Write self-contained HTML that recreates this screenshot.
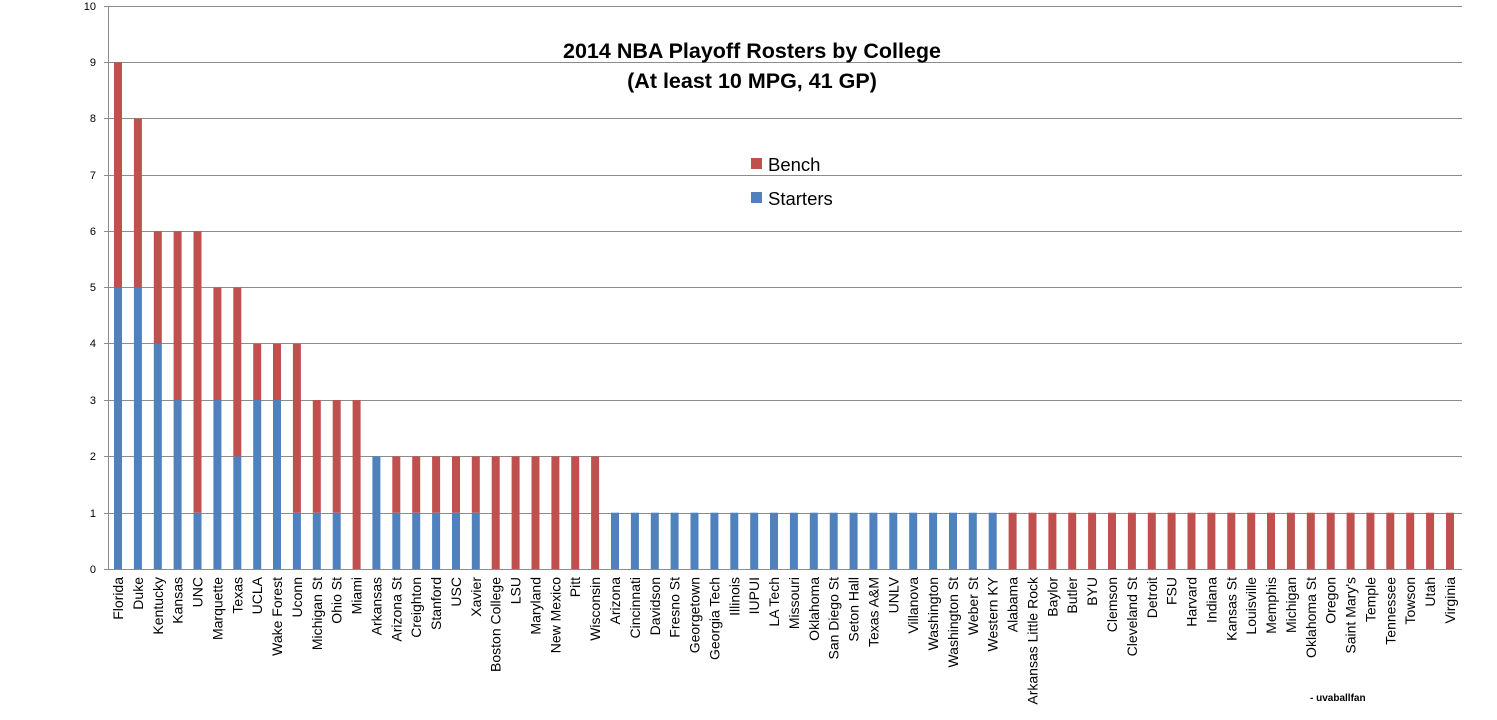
<!DOCTYPE html>
<html><head><meta charset="utf-8"><style>
body{margin:0;background:#fff}
svg{display:block;font-family:"Liberation Sans",sans-serif}
.s{fill:#4f81bd}.b{fill:#c0504d}
.l{font-size:14px;fill:#000}
.y{font-size:11px;fill:#000}
</style></head><body>
<svg width="1497" height="720" viewBox="0 0 1497 720">
<rect width="1497" height="720" fill="#fff"/>
<g stroke="#8c8c8c" stroke-width="1">
<line x1="104" x2="1462" y1="6.5" y2="6.5"/><line x1="104" x2="1462" y1="62.5" y2="62.5"/><line x1="104" x2="1462" y1="118.5" y2="118.5"/><line x1="104" x2="1462" y1="175.5" y2="175.5"/><line x1="104" x2="1462" y1="231.5" y2="231.5"/><line x1="104" x2="1462" y1="287.5" y2="287.5"/><line x1="104" x2="1462" y1="343.5" y2="343.5"/><line x1="104" x2="1462" y1="400.5" y2="400.5"/><line x1="104" x2="1462" y1="456.5" y2="456.5"/><line x1="104" x2="1462" y1="513.5" y2="513.5"/><line x1="104" x2="1462" y1="569.5" y2="569.5"/>
<line x1="108.5" x2="108.5" y1="6" y2="570"/>
</g>
<g class="y" text-anchor="end">
<text x="96" y="10">10</text><text x="96" y="66">9</text><text x="96" y="122">8</text><text x="96" y="179">7</text><text x="96" y="235">6</text><text x="96" y="291">5</text><text x="96" y="347">4</text><text x="96" y="404">3</text><text x="96" y="460">2</text><text x="96" y="517">1</text><text x="96" y="573">0</text>
</g>
<text x="752" y="58" text-anchor="middle" font-size="21.5" font-weight="bold">2014 NBA Playoff Rosters by College</text>
<text x="752" y="88" text-anchor="middle" font-size="21.5" font-weight="bold">(At least 10 MPG, 41 GP)</text>
<rect x="751" y="158" width="11" height="11" class="b"/><text x="768" y="171" font-size="18.5">Bench</text>
<rect x="751" y="192" width="11" height="11" class="s"/><text x="768" y="205" font-size="18.5">Starters</text>
<text x="1310" y="701" font-size="10" font-weight="bold">- uvaballfan</text>
<g id="bars">
<g transform="translate(118,0)"><rect class="s" x="-4" y="287.5" width="8" height="281.5"/><rect class="b" x="-4" y="62.3" width="8" height="225.2"/><text class="l" text-anchor="end" transform="translate(5,577) rotate(-90)">Florida</text></g>
<g transform="translate(137.9,0)"><rect class="s" x="-4" y="287.5" width="8" height="281.5"/><rect class="b" x="-4" y="118.6" width="8" height="168.9"/><text class="l" text-anchor="end" transform="translate(5,577) rotate(-90)">Duke</text></g>
<g transform="translate(157.8,0)"><rect class="s" x="-4" y="343.8" width="8" height="225.2"/><rect class="b" x="-4" y="231.2" width="8" height="112.6"/><text class="l" text-anchor="end" transform="translate(5,577) rotate(-90)">Kentucky</text></g>
<g transform="translate(177.6,0)"><rect class="s" x="-4" y="400.1" width="8" height="168.9"/><rect class="b" x="-4" y="231.2" width="8" height="168.9"/><text class="l" text-anchor="end" transform="translate(5,577) rotate(-90)">Kansas</text></g>
<g transform="translate(197.5,0)"><rect class="s" x="-4" y="512.7" width="8" height="56.3"/><rect class="b" x="-4" y="231.2" width="8" height="281.5"/><text class="l" text-anchor="end" transform="translate(5,577) rotate(-90)">UNC</text></g>
<g transform="translate(217.4,0)"><rect class="s" x="-4" y="400.1" width="8" height="168.9"/><rect class="b" x="-4" y="287.5" width="8" height="112.6"/><text class="l" text-anchor="end" transform="translate(5,577) rotate(-90)">Marquette</text></g>
<g transform="translate(237.3,0)"><rect class="s" x="-4" y="456.4" width="8" height="112.6"/><rect class="b" x="-4" y="287.5" width="8" height="168.9"/><text class="l" text-anchor="end" transform="translate(5,577) rotate(-90)">Texas</text></g>
<g transform="translate(257.2,0)"><rect class="s" x="-4" y="400.1" width="8" height="168.9"/><rect class="b" x="-4" y="343.8" width="8" height="56.3"/><text class="l" text-anchor="end" transform="translate(5,577) rotate(-90)">UCLA</text></g>
<g transform="translate(277,0)"><rect class="s" x="-4" y="400.1" width="8" height="168.9"/><rect class="b" x="-4" y="343.8" width="8" height="56.3"/><text class="l" text-anchor="end" transform="translate(5,577) rotate(-90)">Wake Forest</text></g>
<g transform="translate(296.9,0)"><rect class="s" x="-4" y="512.7" width="8" height="56.3"/><rect class="b" x="-4" y="343.8" width="8" height="168.9"/><text class="l" text-anchor="end" transform="translate(5,577) rotate(-90)">Uconn</text></g>
<g transform="translate(316.8,0)"><rect class="s" x="-4" y="512.7" width="8" height="56.3"/><rect class="b" x="-4" y="400.1" width="8" height="112.6"/><text class="l" text-anchor="end" transform="translate(5,577) rotate(-90)">Michigan St</text></g>
<g transform="translate(336.7,0)"><rect class="s" x="-4" y="512.7" width="8" height="56.3"/><rect class="b" x="-4" y="400.1" width="8" height="112.6"/><text class="l" text-anchor="end" transform="translate(5,577) rotate(-90)">Ohio St</text></g>
<g transform="translate(356.6,0)"><rect class="b" x="-4" y="400.1" width="8" height="168.9"/><text class="l" text-anchor="end" transform="translate(5,577) rotate(-90)">Miami</text></g>
<g transform="translate(376.4,0)"><rect class="s" x="-4" y="456.4" width="8" height="112.6"/><text class="l" text-anchor="end" transform="translate(5,577) rotate(-90)">Arkansas</text></g>
<g transform="translate(396.3,0)"><rect class="s" x="-4" y="512.7" width="8" height="56.3"/><rect class="b" x="-4" y="456.4" width="8" height="56.3"/><text class="l" text-anchor="end" transform="translate(5,577) rotate(-90)">Arizona St</text></g>
<g transform="translate(416.2,0)"><rect class="s" x="-4" y="512.7" width="8" height="56.3"/><rect class="b" x="-4" y="456.4" width="8" height="56.3"/><text class="l" text-anchor="end" transform="translate(5,577) rotate(-90)">Creighton</text></g>
<g transform="translate(436.1,0)"><rect class="s" x="-4" y="512.7" width="8" height="56.3"/><rect class="b" x="-4" y="456.4" width="8" height="56.3"/><text class="l" text-anchor="end" transform="translate(5,577) rotate(-90)">Stanford</text></g>
<g transform="translate(456,0)"><rect class="s" x="-4" y="512.7" width="8" height="56.3"/><rect class="b" x="-4" y="456.4" width="8" height="56.3"/><text class="l" text-anchor="end" transform="translate(5,577) rotate(-90)">USC</text></g>
<g transform="translate(475.8,0)"><rect class="s" x="-4" y="512.7" width="8" height="56.3"/><rect class="b" x="-4" y="456.4" width="8" height="56.3"/><text class="l" text-anchor="end" transform="translate(5,577) rotate(-90)">Xavier</text></g>
<g transform="translate(495.7,0)"><rect class="b" x="-4" y="456.4" width="8" height="112.6"/><text class="l" text-anchor="end" transform="translate(5,577) rotate(-90)">Boston College</text></g>
<g transform="translate(515.6,0)"><rect class="b" x="-4" y="456.4" width="8" height="112.6"/><text class="l" text-anchor="end" transform="translate(5,577) rotate(-90)">LSU</text></g>
<g transform="translate(535.5,0)"><rect class="b" x="-4" y="456.4" width="8" height="112.6"/><text class="l" text-anchor="end" transform="translate(5,577) rotate(-90)">Maryland</text></g>
<g transform="translate(555.4,0)"><rect class="b" x="-4" y="456.4" width="8" height="112.6"/><text class="l" text-anchor="end" transform="translate(5,577) rotate(-90)">New Mexico</text></g>
<g transform="translate(575.2,0)"><rect class="b" x="-4" y="456.4" width="8" height="112.6"/><text class="l" text-anchor="end" transform="translate(5,577) rotate(-90)">Pitt</text></g>
<g transform="translate(595.1,0)"><rect class="b" x="-4" y="456.4" width="8" height="112.6"/><text class="l" text-anchor="end" transform="translate(5,577) rotate(-90)">Wisconsin</text></g>
<g transform="translate(615,0)"><rect class="s" x="-4" y="512.7" width="8" height="56.3"/><text class="l" text-anchor="end" transform="translate(5,577) rotate(-90)">Arizona</text></g>
<g transform="translate(634.9,0)"><rect class="s" x="-4" y="512.7" width="8" height="56.3"/><text class="l" text-anchor="end" transform="translate(5,577) rotate(-90)">Cincinnati</text></g>
<g transform="translate(654.8,0)"><rect class="s" x="-4" y="512.7" width="8" height="56.3"/><text class="l" text-anchor="end" transform="translate(5,577) rotate(-90)">Davidson</text></g>
<g transform="translate(674.6,0)"><rect class="s" x="-4" y="512.7" width="8" height="56.3"/><text class="l" text-anchor="end" transform="translate(5,577) rotate(-90)">Fresno St</text></g>
<g transform="translate(694.5,0)"><rect class="s" x="-4" y="512.7" width="8" height="56.3"/><text class="l" text-anchor="end" transform="translate(5,577) rotate(-90)">Georgetown</text></g>
<g transform="translate(714.4,0)"><rect class="s" x="-4" y="512.7" width="8" height="56.3"/><text class="l" text-anchor="end" transform="translate(5,577) rotate(-90)">Georgia Tech</text></g>
<g transform="translate(734.3,0)"><rect class="s" x="-4" y="512.7" width="8" height="56.3"/><text class="l" text-anchor="end" transform="translate(5,577) rotate(-90)">Illinois</text></g>
<g transform="translate(754.2,0)"><rect class="s" x="-4" y="512.7" width="8" height="56.3"/><text class="l" text-anchor="end" transform="translate(5,577) rotate(-90)">IUPUI</text></g>
<g transform="translate(774,0)"><rect class="s" x="-4" y="512.7" width="8" height="56.3"/><text class="l" text-anchor="end" transform="translate(5,577) rotate(-90)">LA Tech</text></g>
<g transform="translate(793.9,0)"><rect class="s" x="-4" y="512.7" width="8" height="56.3"/><text class="l" text-anchor="end" transform="translate(5,577) rotate(-90)">Missouri</text></g>
<g transform="translate(813.8,0)"><rect class="s" x="-4" y="512.7" width="8" height="56.3"/><text class="l" text-anchor="end" transform="translate(5,577) rotate(-90)">Oklahoma</text></g>
<g transform="translate(833.7,0)"><rect class="s" x="-4" y="512.7" width="8" height="56.3"/><text class="l" text-anchor="end" transform="translate(5,577) rotate(-90)">San Diego St</text></g>
<g transform="translate(853.6,0)"><rect class="s" x="-4" y="512.7" width="8" height="56.3"/><text class="l" text-anchor="end" transform="translate(5,577) rotate(-90)">Seton Hall</text></g>
<g transform="translate(873.4,0)"><rect class="s" x="-4" y="512.7" width="8" height="56.3"/><text class="l" text-anchor="end" transform="translate(5,577) rotate(-90)">Texas A&amp;M</text></g>
<g transform="translate(893.3,0)"><rect class="s" x="-4" y="512.7" width="8" height="56.3"/><text class="l" text-anchor="end" transform="translate(5,577) rotate(-90)">UNLV</text></g>
<g transform="translate(913.2,0)"><rect class="s" x="-4" y="512.7" width="8" height="56.3"/><text class="l" text-anchor="end" transform="translate(5,577) rotate(-90)">Villanova</text></g>
<g transform="translate(933.1,0)"><rect class="s" x="-4" y="512.7" width="8" height="56.3"/><text class="l" text-anchor="end" transform="translate(5,577) rotate(-90)">Washington</text></g>
<g transform="translate(953,0)"><rect class="s" x="-4" y="512.7" width="8" height="56.3"/><text class="l" text-anchor="end" transform="translate(5,577) rotate(-90)">Washington St</text></g>
<g transform="translate(972.8,0)"><rect class="s" x="-4" y="512.7" width="8" height="56.3"/><text class="l" text-anchor="end" transform="translate(5,577) rotate(-90)">Weber St</text></g>
<g transform="translate(992.7,0)"><rect class="s" x="-4" y="512.7" width="8" height="56.3"/><text class="l" text-anchor="end" transform="translate(5,577) rotate(-90)">Western KY</text></g>
<g transform="translate(1012.6,0)"><rect class="b" x="-4" y="512.7" width="8" height="56.3"/><text class="l" text-anchor="end" transform="translate(5,577) rotate(-90)">Alabama</text></g>
<g transform="translate(1032.5,0)"><rect class="b" x="-4" y="512.7" width="8" height="56.3"/><text class="l" text-anchor="end" transform="translate(5,577) rotate(-90)">Arkansas Little Rock</text></g>
<g transform="translate(1052.4,0)"><rect class="b" x="-4" y="512.7" width="8" height="56.3"/><text class="l" text-anchor="end" transform="translate(5,577) rotate(-90)">Baylor</text></g>
<g transform="translate(1072.2,0)"><rect class="b" x="-4" y="512.7" width="8" height="56.3"/><text class="l" text-anchor="end" transform="translate(5,577) rotate(-90)">Butler</text></g>
<g transform="translate(1092.1,0)"><rect class="b" x="-4" y="512.7" width="8" height="56.3"/><text class="l" text-anchor="end" transform="translate(5,577) rotate(-90)">BYU</text></g>
<g transform="translate(1112,0)"><rect class="b" x="-4" y="512.7" width="8" height="56.3"/><text class="l" text-anchor="end" transform="translate(5,577) rotate(-90)">Clemson</text></g>
<g transform="translate(1131.9,0)"><rect class="b" x="-4" y="512.7" width="8" height="56.3"/><text class="l" text-anchor="end" transform="translate(5,577) rotate(-90)">Cleveland St</text></g>
<g transform="translate(1151.8,0)"><rect class="b" x="-4" y="512.7" width="8" height="56.3"/><text class="l" text-anchor="end" transform="translate(5,577) rotate(-90)">Detroit</text></g>
<g transform="translate(1171.6,0)"><rect class="b" x="-4" y="512.7" width="8" height="56.3"/><text class="l" text-anchor="end" transform="translate(5,577) rotate(-90)">FSU</text></g>
<g transform="translate(1191.5,0)"><rect class="b" x="-4" y="512.7" width="8" height="56.3"/><text class="l" text-anchor="end" transform="translate(5,577) rotate(-90)">Harvard</text></g>
<g transform="translate(1211.4,0)"><rect class="b" x="-4" y="512.7" width="8" height="56.3"/><text class="l" text-anchor="end" transform="translate(5,577) rotate(-90)">Indiana</text></g>
<g transform="translate(1231.3,0)"><rect class="b" x="-4" y="512.7" width="8" height="56.3"/><text class="l" text-anchor="end" transform="translate(5,577) rotate(-90)">Kansas St</text></g>
<g transform="translate(1251.2,0)"><rect class="b" x="-4" y="512.7" width="8" height="56.3"/><text class="l" text-anchor="end" transform="translate(5,577) rotate(-90)">Louisville</text></g>
<g transform="translate(1271,0)"><rect class="b" x="-4" y="512.7" width="8" height="56.3"/><text class="l" text-anchor="end" transform="translate(5,577) rotate(-90)">Memphis</text></g>
<g transform="translate(1290.9,0)"><rect class="b" x="-4" y="512.7" width="8" height="56.3"/><text class="l" text-anchor="end" transform="translate(5,577) rotate(-90)">Michigan</text></g>
<g transform="translate(1310.8,0)"><rect class="b" x="-4" y="512.7" width="8" height="56.3"/><text class="l" text-anchor="end" transform="translate(5,577) rotate(-90)">Oklahoma St</text></g>
<g transform="translate(1330.7,0)"><rect class="b" x="-4" y="512.7" width="8" height="56.3"/><text class="l" text-anchor="end" transform="translate(5,577) rotate(-90)">Oregon</text></g>
<g transform="translate(1350.6,0)"><rect class="b" x="-4" y="512.7" width="8" height="56.3"/><text class="l" text-anchor="end" transform="translate(5,577) rotate(-90)">Saint Mary's</text></g>
<g transform="translate(1370.4,0)"><rect class="b" x="-4" y="512.7" width="8" height="56.3"/><text class="l" text-anchor="end" transform="translate(5,577) rotate(-90)">Temple</text></g>
<g transform="translate(1390.3,0)"><rect class="b" x="-4" y="512.7" width="8" height="56.3"/><text class="l" text-anchor="end" transform="translate(5,577) rotate(-90)">Tennessee</text></g>
<g transform="translate(1410.2,0)"><rect class="b" x="-4" y="512.7" width="8" height="56.3"/><text class="l" text-anchor="end" transform="translate(5,577) rotate(-90)">Towson</text></g>
<g transform="translate(1430.1,0)"><rect class="b" x="-4" y="512.7" width="8" height="56.3"/><text class="l" text-anchor="end" transform="translate(5,577) rotate(-90)">Utah</text></g>
<g transform="translate(1450,0)"><rect class="b" x="-4" y="512.7" width="8" height="56.3"/><text class="l" text-anchor="end" transform="translate(5,577) rotate(-90)">Virginia</text></g>
</g>
</svg>
</body></html>
